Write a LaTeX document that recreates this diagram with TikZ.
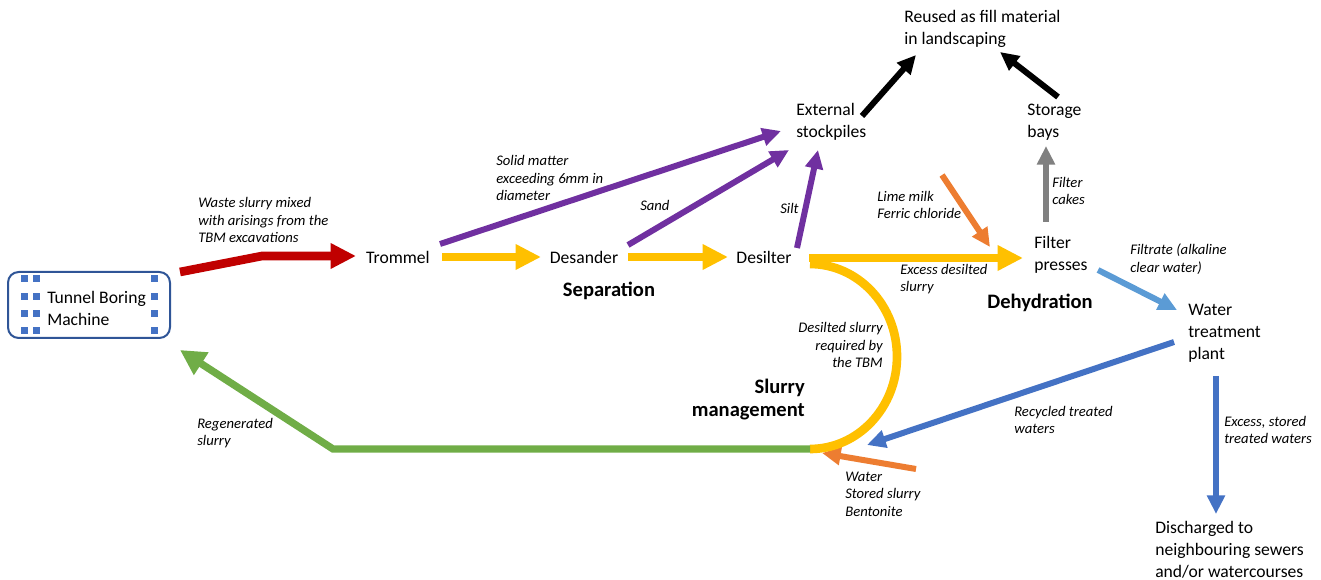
\documentclass[tikz,border=0pt]{standalone}
\usepackage{fontspec}
\setmainfont{Carlito}
\usetikzlibrary{arrows.meta}
\definecolor{cRed}{HTML}{C00000}
\definecolor{cYel}{HTML}{FFC000}
\definecolor{cPur}{HTML}{7030A0}
\definecolor{cOra}{HTML}{ED7D31}
\definecolor{cGry}{HTML}{808080}
\definecolor{cLBl}{HTML}{5B9BD5}
\definecolor{cBlu}{HTML}{4472C4}
\definecolor{cGrn}{HTML}{70AD47}
\definecolor{cBox}{HTML}{2F5597}
\begin{document}
\begin{tikzpicture}[x=0.75pt,y=-0.75pt,
  txt/.style={font=\fontsize{13.2}{16.5}\selectfont, inner sep=0pt, align=left},
  lbl/.style={font=\fontsize{11}{13.1}\selectfont\itshape, inner sep=0pt, align=left},
  head/.style={font=\fontsize{15.4}{17.3}\selectfont\bfseries, inner sep=0pt},
  bigflow/.style={line width=6.5pt, -{Triangle[length=19pt,width=18pt]}},
  flow/.style={line width=4.5pt, -{Triangle[length=14pt,width=13pt]}},
  sq/.style={fill=cBlu, draw=none}]
\useasboundingbox (0,0) rectangle (1321,580);

% Tunnel boring machine
\node[draw=cBox, line width=1.5pt, rounded corners=8pt, minimum width=121.5pt,
  minimum height=49.5pt, inner sep=0pt] (tbm) at (89,305) {};
\foreach \yy in {279,297,314,331}{
  \fill[sq] (21,\yy-3.5) rectangle ++(7,7);
  \fill[sq] (33,\yy-3.5) rectangle ++(7,7);
  \fill[sq] (151,\yy-3.5) rectangle ++(7,7);
}
\node[txt, anchor=west] (tbmtxt) at (47,308) {Tunnel Boring\\Machine};

% Process nodes
\node[txt] (trom) at (398,257) {Trommel};
\node[txt] (desa) at (584,257) {Desander};
\node[txt] (desi) at (764,257) {Desilter};
\node[txt, anchor=west] (ext) at (796,122) {External\\stockpiles};
\node[txt, anchor=west] (reuse) at (904,29) {Reused as fill material\\in landscaping};
\node[txt, anchor=west] (store) at (1027,122) {Storage\\bays};
\node[txt, anchor=west] (fp) at (1034,255) {Filter\\presses};
\node[txt, anchor=west] (wtp) at (1188,333) {Water\\treatment\\plant};
\node[txt, anchor=west] (dis) at (1155,550) {Discharged to\\neighbouring sewers\\and/or watercourses};

% Stage headings
\node[head] (sep) at (609,291) {Separation};
\node[head] (deh) at (1040,303) {Dehydration};
\node[head, anchor=east, align=right] (slm) at (805,400) {Slurry\\management};

% Flow labels
\node[lbl, anchor=west] (lwaste) at (198,220) {Waste slurry mixed\\with arisings from the\\TBM excavations};
\node[lbl, anchor=west] (lsolid) at (496,178) {Solid matter\\exceeding 6mm in\\diameter};
\node[lbl, anchor=west] (lsand) at (640,205) {Sand};
\node[lbl, anchor=west] (lsilt) at (780,208) {Silt};
\node[lbl, anchor=west] (lcake) at (1052,191) {Filter\\cakes};
\node[lbl, anchor=west] (llime) at (877,205) {Lime milk\\Ferric chloride};
\node[lbl, anchor=west] (lexc) at (900,279) {Excess desilted\\slurry};
\node[lbl, anchor=west] (lfilt) at (1130,259) {Filtrate (alkaline\\clear water)};
\node[lbl, anchor=west] (lrec) at (1014,420) {Recycled treated\\waters};
\node[lbl, anchor=west] (lsto) at (1224,430) {Excess, stored\\treated waters};
\node[lbl, anchor=west] (ladd) at (845,494) {Water\\Stored slurry\\Bentonite};
\node[lbl, anchor=east, align=right] (lreq) at (883,345) {Desilted slurry\\required by\\the TBM};
\node[lbl, anchor=west] (lreg) at (197,433) {Regenerated\\slurry};

% Connector end points
\coordinate (redA) at (180,272);
\coordinate (redB) at (262,256);
\coordinate (redC) at (356,256);
\coordinate (orTop) at (942,175);
\coordinate (orTip) at (990,247);
\coordinate (orLow) at (916,469);
\coordinate (orLowTip) at (822,453);
\coordinate (arcTop) at (810,264);
\coordinate (arcBot) at (810,449);
\coordinate (grnBend) at (333,449);
\coordinate (grnTip) at (180,350);

% Waste slurry to trommel
\draw[bigflow, cRed, line join=miter] (redA) -- (redB) -- (redC);

% Separation chain
\draw[bigflow, cYel] (442,257) -- (541,257);
\draw[bigflow, cYel] (628,257) -- (728,257);
\draw[bigflow, cYel] (809,258) -- (1023,258);

% Solids to stockpiles
\draw[flow, cPur] (440,244) -- (781,131);
\draw[flow, cPur] (628,245) -- (789,150);
\draw[flow, cPur] (797,248) -- (818,150);

% Reuse
\draw[flow, black] (862,116) -- (916,55);
\draw[flow, black] (1058,97) -- (1000,52);
\draw[flow, cGry] (1046,222) -- (1046,146);

% Reagents
\draw[flow, cOra] (orTop) -- (orTip);
\draw[flow, cOra] (orLow) -- (orLowTip);

% Water treatment
\draw[flow, cLBl] (1098,270) -- (1177,310);
\draw[flow, cBlu] (1174,342) -- (867,445);
\draw[flow, cBlu] (1216,376) -- (1216,514);

% Slurry loop back to the TBM
\draw[line width=6.5pt, cYel] (arcTop) arc[start angle=-90, end angle=90, x radius=87, y radius=92.5];
\draw[line width=5.5pt, cGrn, line join=miter, -{Triangle[length=19pt,width=19pt]}]
  (arcBot) -- (grnBend) -- (grnTip);
\end{tikzpicture}
\end{document}
